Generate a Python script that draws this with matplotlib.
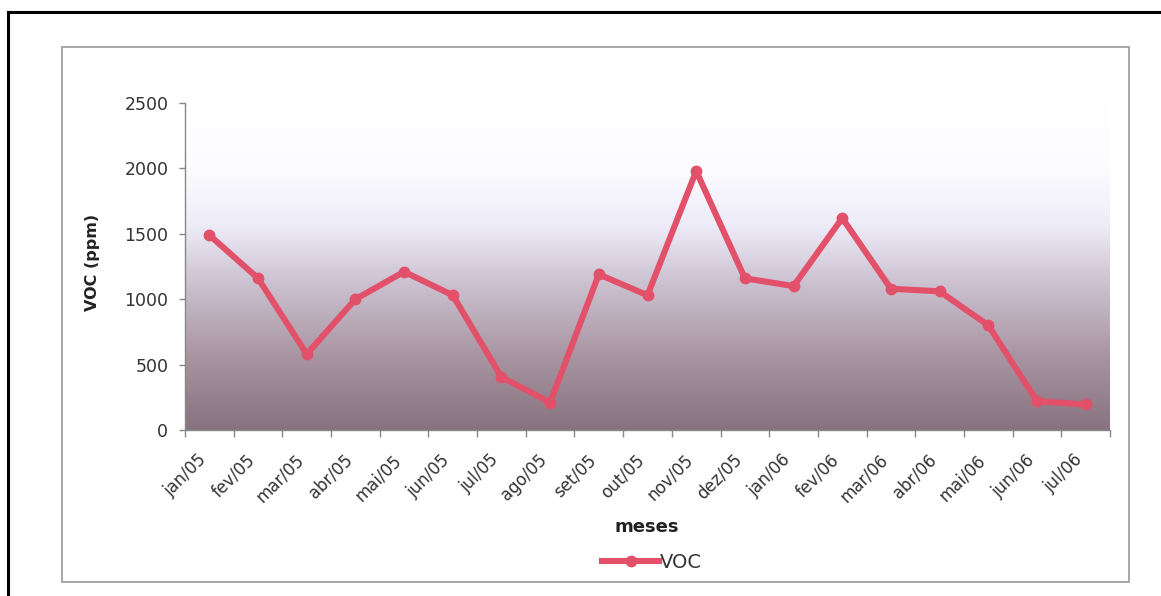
import matplotlib
matplotlib.use("Agg")
import matplotlib.pyplot as plt
import matplotlib.transforms as mtransforms
import numpy as np
from matplotlib.colors import LinearSegmentedColormap
from matplotlib.patches import Rectangle
from matplotlib.lines import Line2D

months = ["jan/05", "fev/05", "mar/05", "abr/05", "mai/05", "jun/05", "jul/05",
          "ago/05", "set/05", "out/05", "nov/05", "dez/05", "jan/06", "fev/06",
          "mar/06", "abr/06", "mai/06", "jun/06", "jul/06"]
voc = [1490, 1160, 580, 1000, 1210, 1030, 405, 210, 1190, 1030, 1980, 1160,
       1100, 1620, 1080, 1060, 800, 220, 195]
yticks = [0, 500, 1000, 1500, 2000, 2500]

W, H = 1161, 596
fig = plt.figure(figsize=(W / 100, H / 100), dpi=100)
fig.patch.set_facecolor("white")

def fx(px):
    return px / W

def fy(py):
    return 1 - py / H

# outer black frame (left and top visible)
fig.add_artist(Line2D([fx(8), fx(8)], [fy(12), fy(600)], color="black", lw=2.2))
fig.add_artist(Line2D([fx(8), fx(1165)], [fy(12), fy(12)], color="black", lw=2.2))
# inner chart area frame
fig.add_artist(Rectangle((fx(62), fy(582)), fx(1129) - fx(62), fy(47) - fy(582),
                         fill=False, edgecolor="#a0a0a0", lw=1.3))

left, right, top, bottom = 185, 1110, 103, 430
ax = fig.add_axes([fx(left), fy(bottom), fx(right) - fx(left), fy(top) - fy(bottom)])

cmap = LinearSegmentedColormap.from_list(
    "bg",
    [(0.0, (0.53, 0.45, 0.50)),
     (0.22, (0.66, 0.58, 0.63)),
     (0.45, (0.80, 0.76, 0.82)),
     (0.62, (0.93, 0.92, 0.97)),
     (0.80, (0.99, 0.99, 1.0)),
     (1.0, (1.0, 1.0, 1.0))])
grad = np.linspace(0, 1, 256).reshape(-1, 1)
x = np.arange(len(months))
ax.imshow(grad, cmap=cmap, origin="lower", aspect="auto",
          extent=[-0.5, len(months) - 0.5, 0, 2500], zorder=0)

ax.plot(x, voc, color="#e2506a", lw=4.4, marker="o", ms=7.5,
        markerfacecolor="#e2506a", markeredgecolor="#e2506a", zorder=3,
        solid_joinstyle="round")

ax.set_xlim(-0.5, len(months) - 0.5)
ax.set_ylim(0, 2500)
ax.set_yticks(yticks)
ax.set_yticklabels([str(v) for v in yticks])
ax.set_xticks(x)
ax.set_xticklabels(months, rotation=45, ha="right", rotation_mode="anchor")
ax.set_xticks(np.arange(-0.5, len(months), 1.0), minor=True)
ax.tick_params(axis="x", which="major", length=0, pad=15, labelsize=12,
               labelcolor="#333333")
ax.tick_params(axis="x", which="minor", length=5, color="#888888", width=1)
ax.tick_params(axis="y", length=4, color="#888888", width=1, labelsize=12.5,
               labelcolor="#333333", pad=8)
shift = mtransforms.ScaledTranslation(-12 / 100, 0, fig.dpi_scale_trans)
for lbl in ax.get_xticklabels():
    lbl.set_transform(lbl.get_transform() + shift)
for s in ["top", "right"]:
    ax.spines[s].set_visible(False)
for s in ["left", "bottom"]:
    ax.spines[s].set_color("#888888")
    ax.spines[s].set_linewidth(1)

fig.text(fx(92), fy(262), "VOC (ppm)", rotation=90, ha="center", va="center",
         fontsize=11.5, fontweight="bold", color="#222222")
fig.text(fx(647), fy(527), "meses", ha="center", va="center",
         fontsize=13, fontweight="bold", color="#222222")

leg = ax.legend(["VOC"], loc="center", bbox_to_anchor=(fx(652), fy(562)),
                bbox_transform=fig.transFigure, frameon=False, fontsize=14,
                handlelength=2.9, handletextpad=0.05, borderpad=0)
for t in leg.get_texts():
    t.set_color("#333333")

fig.savefig("out.png", dpi=100)
